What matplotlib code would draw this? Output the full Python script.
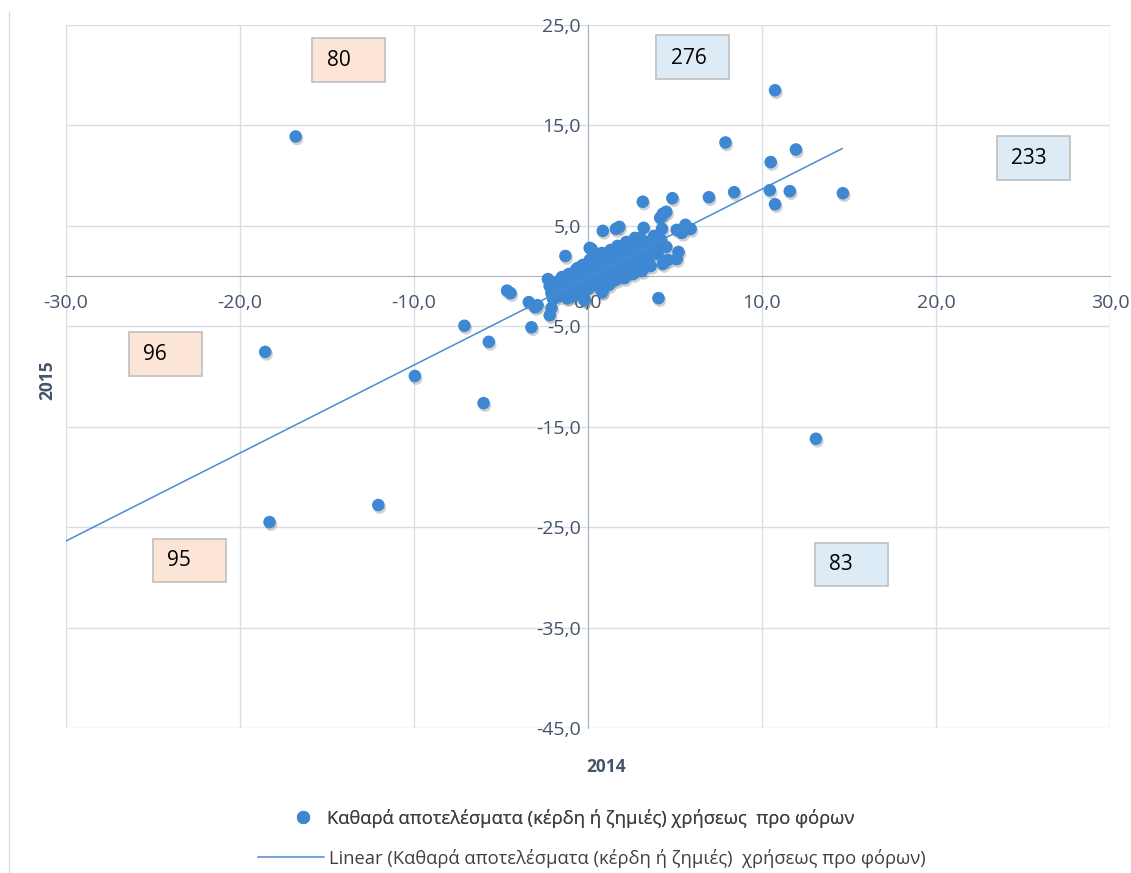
import matplotlib
matplotlib.use("Agg")
import matplotlib.pyplot as plt
import matplotlib.patheffects as pe
from matplotlib.patches import Rectangle
from matplotlib.lines import Line2D
from matplotlib.ticker import FuncFormatter

plt.rcParams['font.family'] = ['Open Sans', 'DejaVu Sans']

# scattered companies (2014 result, 2015 result)
OUTLIER_2014 = [-16.8, 10.75, 7.9, 11.95, 10.5, 14.65, 11.6, 8.4, 10.45, 10.75, 6.95, 3.15, 4.85,
                -18.55, -18.3, -12.05, -9.95, -6.0, -7.1, -5.7, 13.1, 4.05, -4.65, -4.45, -3.4,
                -3.05, -3.25, -2.1, -2.2, -2.9]
OUTLIER_2015 = [13.9, 18.5, 13.3, 12.6, 11.35, 8.25, 8.45, 8.35, 8.55, 7.15, 7.85, 7.4, 7.75,
                -7.55, -24.5, -22.8, -9.95, -12.65, -4.95, -6.55, -16.2, -2.2, -1.45, -1.7, -2.6,
                -3.1, -5.1, -3.2, -3.9, -2.9]

# points around the edge of the central group
EDGE_2014 = [4.3, 4.5, 4.15, 0.85, 1.6, 1.8, 3.2, 4.25, 5.1, 5.6, 5.9, 5.4, -1.3, 0.2, 3.0, 3.4,
             4.5, 5.2, 5.1, 4.6, 3.4, 2.3, 2.9, 4.0]
EDGE_2015 = [6.2, 6.4, 5.8, 4.5, 4.7, 4.9, 4.8, 4.7, 4.6, 5.1, 4.7, 4.3, 2.0, 2.7, 3.8, 3.3,
             2.9, 2.4, 1.7, 1.6, 1.6, 0.8, 3.4, 3.1]

# dense group near the origin
CORE_2014 = [-2.3, -2.2, -2.1, -2.0, -1.8, -1.7, -1.6, -1.5, -1.4, -1.2, -1.2, -1.1, -1.0, -0.9,
             -0.8, -0.7, -0.6, -0.5, -0.4, -0.3, -0.2, -0.2, -0.1, 0.0, 0.1, 0.1, 0.2, 0.3, 0.4,
             0.5, 0.5, 0.6, 0.7, 0.8, 0.8, 0.9, 1.0, 1.1, 1.2, 1.3, 1.3, 1.4, 1.5, 1.6, 1.7, 1.8,
             1.9, 2.0, 2.1, 2.2, 2.3, 2.4, 2.5, 2.6, 2.7, 2.8, 2.9, 3.0, 3.1, 3.3, 3.4, 3.5, 3.6,
             3.8, 3.9, 4.0, 4.2, 4.3, 0.0, -0.3, 0.4, 0.9, 1.4, 1.8, 2.2, 0.6, -0.8, -1.3, 2.6,
             3.2, -1.2, -0.2, 0.8, -0.6, -1.15]
CORE_2015 = [-0.3, -1.0, -1.7, -2.3, -0.6, -1.4, -2.0, -0.1, -0.9, -1.6, -2.2, 0.2, -0.5, -1.2,
             -2.0, 0.6, -0.2, -0.9, -1.6, 1.1, 0.3, -2.3, -0.5, -1.3, 2.8, 1.6, 0.7, -0.1, -0.9,
             2.2, 1.2, 0.3, -0.5, -1.5, 2.3, 1.6, 0.8, -0.1, -0.9, 2.6, 1.8, 1.1, 0.3, -0.4, 3.0,
             2.2, 1.4, 0.6, -0.2, 3.4, 2.6, 1.8, 1.0, 0.2, 3.8, 2.9, 2.1, 1.3, 0.5, 3.4, 2.6, 1.9,
             1.0, 4.0, 3.0, 2.2, 3.6, 1.2, 0.2, -0.4, 0.5, 0.2, -0.2, 0.9, 1.3, 1.8, 0.1, -0.3,
             2.4, 2.0, -2.1, -2.4, -1.6, 0.8, 0.1]

# linear trend as drawn by the spreadsheet
TREND_SLOPE = 0.876
TREND_INTERCEPT = -0.1
TREND_X = [-30.0, 14.6]

# quadrant count boxes: label, centre (px), fill
BOX_LABELS = ['80', '276', '233', '96', '95', '83']
BOX_CENTRES = [(348, 60), (692, 57), (1033, 158), (165, 354), (189, 560), (851, 564)]
BOX_FILLS = ['#FCE4D6', '#DDEBF7', '#DDEBF7', '#FCE4D6', '#FCE4D6', '#DDEBF7']

SERIES = 'Καθαρά αποτελέσματα (κέρδη ή ζημιές) χρήσεως  προ φόρων'
TREND_LABEL = 'Linear (Καθαρά αποτελέσματα (κέρδη ή ζημιές)  χρήσεως προ φόρων)'

W, H = 1131, 873
TXT = '#44546A'
DOT = '#3D87D3'

fig = plt.figure(figsize=(W / 100, H / 100), dpi=100)
ax = fig.add_axes([66 / W, 1 - 728 / H, (1110 - 66) / W, (728 - 25) / H])

xs = OUTLIER_2014 + EDGE_2014 + CORE_2014
ys = OUTLIER_2015 + EDGE_2015 + CORE_2015
sc = ax.scatter(xs, ys, s=82, color=DOT, zorder=3, linewidths=0)
sc.set_path_effects([pe.SimplePatchShadow(offset=(1.0, -1.8), alpha=0.25, shadow_rgbFace='#4a4a4a'),
                     pe.Normal()])

ty = [TREND_SLOPE * x + TREND_INTERCEPT for x in TREND_X]
ln, = ax.plot(TREND_X, ty, color='#4A8CD2', lw=1.1, zorder=4)

ax.set_xlim(-30, 30)
ax.set_ylim(-45, 25)
ax.set_xticks(range(-30, 31, 10))
ax.set_yticks(range(-45, 26, 10))
fmt = FuncFormatter(lambda v, p: f'{v:.1f}'.replace('.', ','))
ax.xaxis.set_major_formatter(fmt)
ax.yaxis.set_major_formatter(fmt)
ax.grid(True, color='#D9DEE6', lw=1.0, zorder=0)
ax.set_axisbelow(True)

for s in ['top', 'right']:
    ax.spines[s].set_visible(False)
ax.spines['left'].set_position(('data', 0))
ax.spines['bottom'].set_position(('data', 0))
ax.spines['left'].set_color('#A7B4C5')
ax.spines['bottom'].set_color('#A7B4C5')
ax.spines['left'].set_zorder(1)
ax.spines['bottom'].set_zorder(1)
ax.tick_params(length=0, labelsize=14, labelcolor=TXT)
ax.tick_params(axis='x', pad=13)
ax.tick_params(axis='y', pad=5)

fig.text(606 / W, 1 - 767 / H, '2014', ha='center', va='center', fontsize=12.5,
         fontweight='bold', color=TXT)
fig.text(47 / W, 1 - 380 / H, '2015', ha='center', va='center', fontsize=12.5,
         fontweight='bold', color=TXT, rotation=90)

# count boxes
for lab, (cx, cy), fc in zip(BOX_LABELS, BOX_CENTRES, BOX_FILLS):
    bw, bh = 73, 43
    fig.add_artist(Rectangle(((cx - bw / 2) / W, 1 - (cy + bh / 2) / H), bw / W, bh / H,
                             transform=fig.transFigure, facecolor=fc, edgecolor='#BFBFBF',
                             lw=1.2, zorder=5))
    fig.text((cx - bw / 2 + 15) / W, 1 - (cy + 1) / H, lab, ha='left', va='center',
             fontsize=15, color='black', zorder=6)

# left border line of the chart area
fig.add_artist(Line2D([9 / W, 9 / W], [0, 1 - 12 / H], transform=fig.transFigure,
                      color='#D9DEE6', lw=1.0))

leg_font = {'size': 13.2}
l1 = fig.legend([Line2D([], [], ls='', marker='o', ms=8.5, color=DOT)], [SERIES],
                loc='center', bbox_to_anchor=(574 / W, 1 - 818 / H), frameon=False,
                prop=leg_font, labelcolor='#404040', handlelength=1.0, handletextpad=0.8)
fig.legend([Line2D([], [], color='#4A8CD2', lw=1.1)], [TREND_LABEL],
           loc='center', bbox_to_anchor=(592 / W, 1 - 858 / H), frameon=False,
           prop=leg_font, labelcolor='#404040', handlelength=3.6, handletextpad=0.3)
fig.add_artist(l1)

fig.savefig('out.png', dpi=100)
